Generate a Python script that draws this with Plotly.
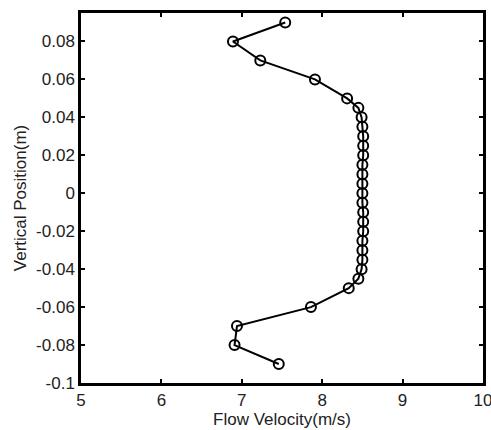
import plotly.graph_objects as go

vertical_position = [0.09, 0.08, 0.07, 0.06, 0.05, 0.045,
                     0.04, 0.035, 0.03, 0.025, 0.02, 0.015, 0.01, 0.005, 0.0,
                     -0.005, -0.01, -0.015, -0.02, -0.025, -0.03, -0.035, -0.04,
                     -0.045, -0.05, -0.06, -0.07, -0.08, -0.09]
flow_velocity = [7.54, 6.89, 7.23, 7.91, 8.31, 8.45,
                 8.49, 8.50, 8.51, 8.51, 8.51, 8.50, 8.50, 8.50, 8.50,
                 8.50, 8.51, 8.51, 8.51, 8.50, 8.50, 8.50, 8.49,
                 8.45, 8.33, 7.86, 6.94, 6.91, 7.46]

x_ticks = [5, 6, 7, 8, 9, 10]
y_ticks = [-0.1, -0.08, -0.06, -0.04, -0.02, 0, 0.02, 0.04, 0.06, 0.08]
y_tick_labels = ["-0.1", "-0.08", "-0.06", "-0.04", "-0.02", "0", "0.02", "0.04", "0.06", "0.08"]

fig = go.Figure()
fig.add_trace(go.Scatter(
    x=flow_velocity, y=vertical_position, mode="lines+markers",
    line=dict(color="black", width=2),
    marker=dict(symbol="circle-open", size=10, color="black", line=dict(width=2)),
    showlegend=False,
))

family = "Liberation Sans, Arial, sans-serif"
tickfont = dict(family=family, size=17, color="#222")
titlefont = dict(family=family, size=17, color="#222")
fig.update_layout(
    width=491, height=430,
    margin=dict(l=81, r=8, t=13, b=47),
    paper_bgcolor="white", plot_bgcolor="white",
    font=dict(family=family, size=17, color="#222"),
    xaxis=dict(range=[5, 10], tickvals=x_ticks, ticks="inside", ticklen=4, tickwidth=1.5,
               tickcolor="black", showline=True, linecolor="black", linewidth=2.5,
               mirror="ticks", showgrid=False, zeroline=False, automargin=False,
               ticklabeloverflow="allow", tickfont=tickfont,
               title=dict(text="Flow Velocity(m/s)", standoff=4, font=titlefont)),
    yaxis=dict(range=[-0.1, 0.095], tickvals=y_ticks, ticktext=y_tick_labels, ticks="inside",
               ticklen=4, tickwidth=1.5, tickcolor="black", showline=True, linecolor="black",
               linewidth=2.5, mirror="ticks", showgrid=False, zeroline=False, automargin=False,
               ticklabeloverflow="allow", tickfont=tickfont,
               title=dict(text="Vertical Position(m)", standoff=6, font=titlefont)),
)
fig.write_html("out.html")
